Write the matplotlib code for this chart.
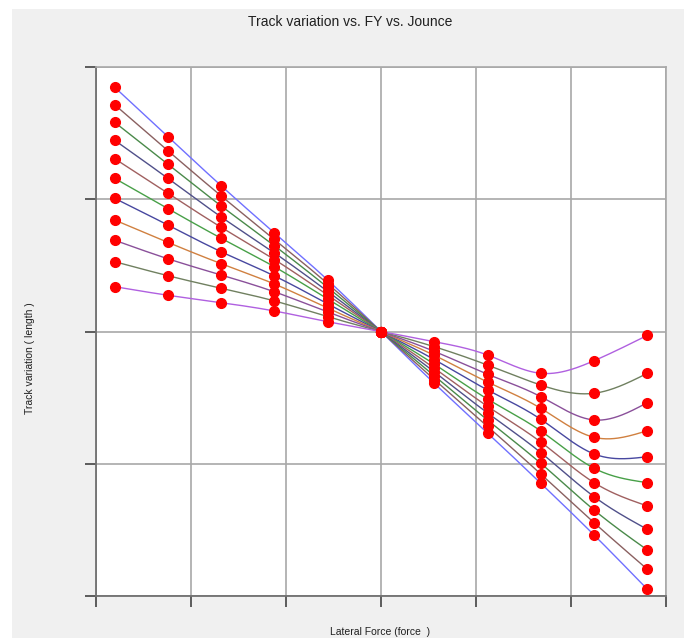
import matplotlib
matplotlib.use("Agg")
import matplotlib.pyplot as plt
import numpy as np
from matplotlib.patches import Rectangle

# lateral force sweep (N)
fy = [-5000, -4000, -3000, -2000, -1000, 0, 1000, 2000, 3000, 4000, 5000]

# track variation (mm) for each jounce step, one list per curve
track = [
    [18.47, 14.73, 11.02, 7.45, 3.89, 0.0, -3.92, -7.67, -11.48, -15.39, -19.49],
    [17.15, 13.67, 10.25, 6.96, 3.61, 0.0, -3.63, -7.18, -10.78, -14.46, -17.98],
    [15.82, 12.64, 9.49, 6.48, 3.33, 0.0, -3.35, -6.70, -9.97, -13.50, -16.52],
    [14.46, 11.58, 8.66, 5.94, 3.03, 0.0, -3.05, -6.16, -9.16, -12.49, -14.96],
    [13.07, 10.45, 7.88, 5.44, 2.75, 0.0, -2.77, -5.66, -8.36, -11.43, -13.19],
    [11.58, 9.29, 7.05, 4.89, 2.45, 0.0, -2.47, -5.11, -7.52, -10.34, -11.43],
    [10.07, 8.05, 6.03, 4.20, 2.09, 0.0, -2.12, -4.42, -6.64, -9.26, -9.47],
    [8.43, 6.74, 5.13, 3.59, 1.77, 0.0, -1.80, -3.82, -5.81, -8.00, -7.50],
    [6.90, 5.50, 4.27, 3.00, 1.47, 0.0, -1.50, -3.23, -4.93, -6.69, -5.38],
    [5.28, 4.22, 3.27, 2.31, 1.12, 0.0, -1.15, -2.54, -4.05, -4.67, -3.16],
    [3.39, 2.74, 2.18, 1.55, 0.74, 0.0, -0.77, -1.78, -3.16, -2.21, -0.29],
]

colors = ['#7070ff', '#8a6060', '#4a8a4a', '#50508a', '#a06060', '#48a048',
          '#4848a0', '#d08040', '#8a509a', '#708060', '#b060e0']


def natural_spline(x, y, xs):
    x = np.asarray(x, float)
    y = np.asarray(y, float)
    n = len(x)
    h = np.diff(x)
    A = np.zeros((n, n))
    b = np.zeros(n)
    A[0, 0] = A[-1, -1] = 1.0
    for i in range(1, n - 1):
        A[i, i - 1] = h[i - 1]
        A[i, i] = 2 * (h[i - 1] + h[i])
        A[i, i + 1] = h[i]
        b[i] = 6 * ((y[i + 1] - y[i]) / h[i] - (y[i] - y[i - 1]) / h[i - 1])
    m = np.linalg.solve(A, b)
    k = np.clip(np.searchsorted(x, xs) - 1, 0, n - 2)
    t = xs - x[k]
    hk = h[k]
    a = (m[k + 1] - m[k]) / (6 * hk)
    c = m[k] / 2
    d = (y[k + 1] - y[k]) / hk - hk * (2 * m[k] + m[k + 1]) / 6
    return y[k] + d * t + c * t ** 2 + a * t ** 3


fig = plt.figure(figsize=(6.84, 6.38), dpi=100, facecolor='white')
# grey window background, leaving a thin white strip at top and left
fig.patches.append(Rectangle((12 / 684, 0), 1, 1 - 9 / 638, transform=fig.transFigure,
                             facecolor='#f0f0f0', edgecolor='none', zorder=-10))
ax = fig.add_axes([96 / 684, 42 / 638, 570 / 684, 529 / 638])
ax.set_facecolor('white')

xs = np.linspace(fy[0], fy[-1], 400)
for vals, col in zip(track, colors):
    ax.plot(xs, natural_spline(fy, vals, xs), color=col, lw=1.0, zorder=2)
for vals in track:
    ax.plot(fy, vals, 'o', color='red', ms=7, mec='red', zorder=3)

ax.set_xlim(-5350, 5350)
ax.set_ylim(-20, 20)
ax.set_xticks(np.linspace(-5350, 5350, 7))
ax.set_yticks([-20, -10, 0, 10, 20])
ax.set_xticklabels([])
ax.set_yticklabels([])
ax.set_axisbelow(True)
ax.grid(True, color='#a8a8a8', lw=1.2)
ax.tick_params(direction='out', length=8, width=1.3, color='#505050')
for side in ['top', 'right']:
    ax.spines[side].set_color('#a8a8a8')
    ax.spines[side].set_linewidth(1.2)
for side in ['left', 'bottom']:
    ax.spines[side].set_color('#707070')
    ax.spines[side].set_linewidth(1.3)

fig.text(350 / 684, 1 - 22 / 638, 'Track variation vs. FY vs. Jounce', ha='center', va='center',
         fontsize=10, family='Liberation Sans', color='#202020')
fig.text(380 / 684, 1 - 632 / 638, 'Lateral Force (force  )', ha='center', va='center',
         fontsize=7.5, family='Liberation Sans', color='#202020')
fig.text(30 / 684, 1 - 358 / 638, 'Track variation ( length )', ha='center', va='center',
         rotation=90, fontsize=7.5, family='Liberation Sans', color='#202020')

fig.savefig('out.png', dpi=100, facecolor=fig.get_facecolor())
